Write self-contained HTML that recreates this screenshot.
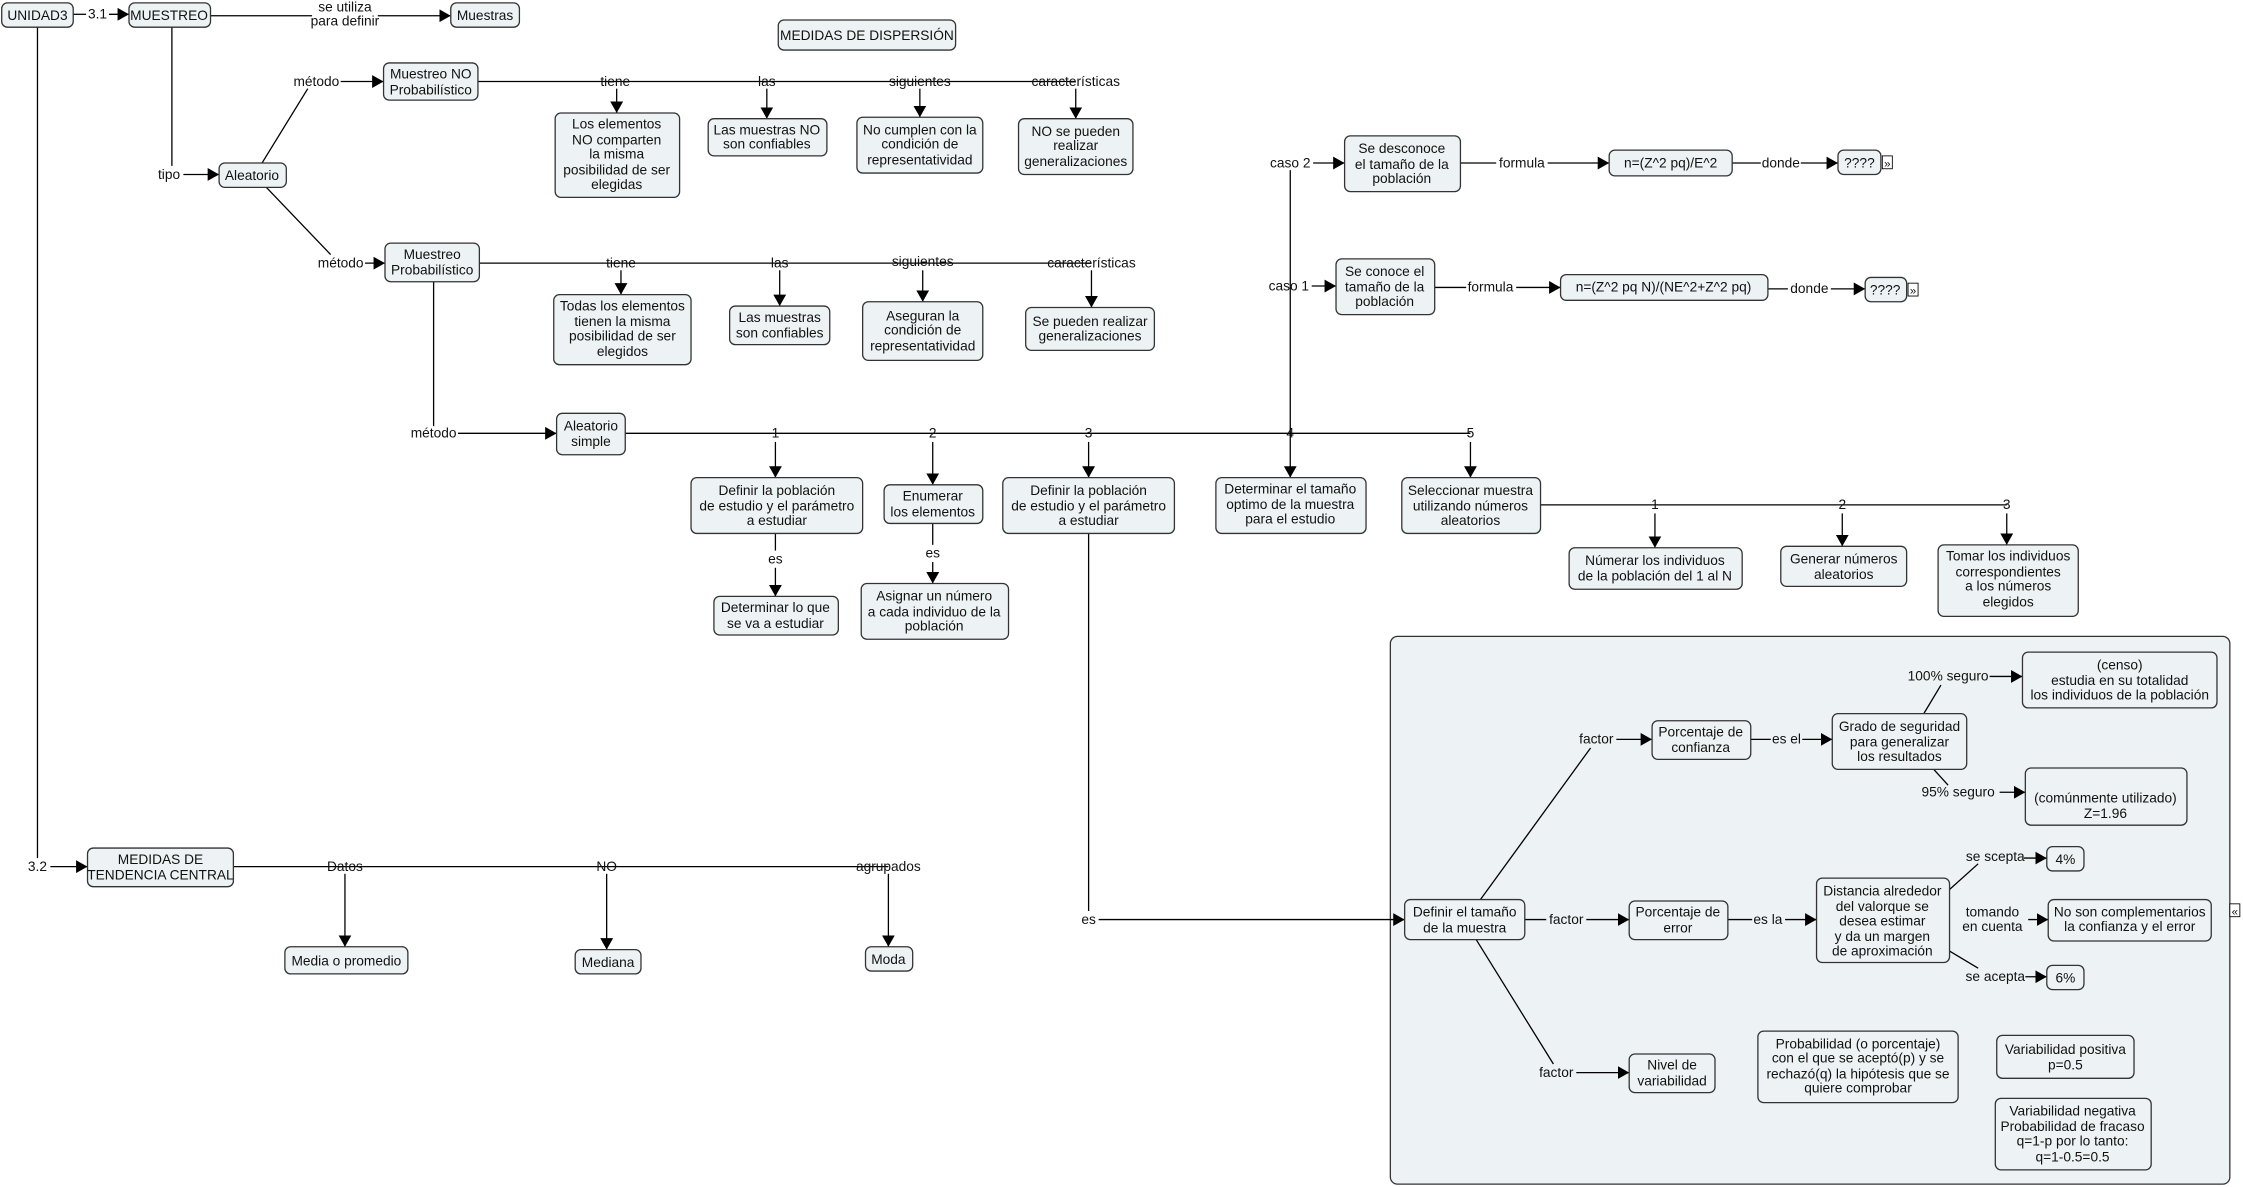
<!DOCTYPE html>
<html><head><meta charset="utf-8"><style>
html,body{margin:0;padding:0;background:#fff}
svg{display:block}
text{font-family:"Liberation Sans",sans-serif;font-size:9.6px;fill:#111;text-anchor:middle}
.n{fill:#edf3f5;stroke:#333;stroke-width:0.9}
.l{stroke:#000;stroke-width:0.9;fill:none}
.a{stroke:#000;stroke-width:0.9;fill:none;marker-end:url(#ar)}
</style></head><body>
<svg width="2243" height="1187" viewBox="0 0 1568 830" xmlns="http://www.w3.org/2000/svg">
<defs><marker id="ar" markerUnits="userSpaceOnUse" markerWidth="9" markerHeight="9" refX="8" refY="4.5" orient="auto"><path d="M0,0 L8,4.5 L0,9 z" fill="#000"/></marker></defs>

<!-- panel -->
<rect x="972" y="445" width="587" height="383" rx="5" fill="#edf3f5" stroke="#333" stroke-width="0.9"/>

<!-- connectors -->
<line class="l" x1="51" y1="10" x2="60" y2="10"/><text x="68" y="13">3.1</text><line class="a" x1="76" y1="10" x2="90" y2="10"/>
<line class="l" x1="147" y1="11" x2="218" y2="11"/><text x="241" y="8">se utiliza</text><text x="241" y="18">para definir</text><line class="a" x1="264" y1="11" x2="315" y2="11"/>
<line class="l" x1="120" y1="19" x2="120" y2="116"/><text x="118" y="125">tipo</text><line class="a" x1="128" y1="122" x2="153" y2="122"/>
<line class="l" x1="183" y1="114" x2="215" y2="62"/><text x="221" y="60">método</text><line class="a" x1="238" y1="57" x2="268" y2="57"/>
<line class="l" x1="186" y1="131" x2="231" y2="178"/><text x="238" y="187">método</text><line class="a" x1="255" y1="184" x2="269" y2="184"/>
<line class="l" x1="334" y1="57" x2="752" y2="57"/>
<text x="430" y="60">tiene</text><text x="536" y="60">las</text><text x="643" y="60">siguientes</text><text x="752" y="60">características</text>
<line class="a" x1="431" y1="62" x2="431" y2="79"/><line class="a" x1="536" y1="62" x2="536" y2="83"/><line class="a" x1="643" y1="62" x2="643" y2="82"/><line class="a" x1="752" y1="62" x2="752" y2="83"/>
<line class="l" x1="335" y1="184" x2="763" y2="184"/>
<text x="434" y="187">tiene</text><text x="545" y="187">las</text><text x="645" y="186">siguientes</text><text x="763" y="187">características</text>
<line class="a" x1="434" y1="189" x2="434" y2="206"/><line class="a" x1="545" y1="189" x2="545" y2="214"/><line class="a" x1="645" y1="189" x2="645" y2="211"/><line class="a" x1="763" y1="189" x2="763" y2="215"/>
<line class="l" x1="303" y1="197" x2="303" y2="298"/><text x="303" y="306">método</text><line class="a" x1="320" y1="303" x2="389" y2="303"/>
<line class="l" x1="437" y1="303" x2="1028" y2="303"/>
<text x="542" y="306">1</text><text x="652" y="306">2</text><text x="761" y="306">3</text><text x="902" y="306">4</text><text x="1028" y="306">5</text>
<line class="a" x1="542" y1="309" x2="542" y2="334"/><line class="a" x1="652" y1="309" x2="652" y2="339"/><line class="a" x1="761" y1="309" x2="761" y2="334"/><line class="a" x1="1028" y1="309" x2="1028" y2="334"/>
<line class="l" x1="542" y1="373" x2="542" y2="385"/><text x="542" y="394">es</text><line class="a" x1="542" y1="397" x2="542" y2="417"/>
<line class="l" x1="652" y1="366" x2="652" y2="381"/><text x="652" y="390">es</text><line class="a" x1="652" y1="393" x2="652" y2="408"/>
<line class="l" x1="761" y1="373" x2="761" y2="637"/><text x="761" y="646">es</text><line class="a" x1="768" y1="643" x2="982" y2="643"/>
<line class="a" x1="902" y1="119" x2="902" y2="334"/>
<text x="902" y="117">caso 2</text><line class="a" x1="918" y1="114" x2="940" y2="114"/>
<text x="901" y="203">caso 1</text><line class="a" x1="917" y1="200" x2="934" y2="200"/>
<line class="l" x1="1021" y1="114" x2="1046" y2="114"/><text x="1064" y="117">formula</text><line class="a" x1="1082" y1="114" x2="1125" y2="114"/>
<line class="l" x1="1211" y1="114" x2="1231" y2="114"/><text x="1245" y="117">donde</text><line class="a" x1="1259" y1="114" x2="1285" y2="114"/>
<line class="l" x1="1003" y1="201" x2="1025" y2="201"/><text x="1042" y="204">formula</text><line class="a" x1="1060" y1="201" x2="1091" y2="201"/>
<line class="l" x1="1236" y1="202" x2="1250" y2="202"/><text x="1265" y="205">donde</text><line class="a" x1="1280" y1="202" x2="1304" y2="202"/>
<line class="l" x1="1077" y1="353" x2="1403" y2="353"/>
<text x="1157" y="356">1</text><text x="1288" y="356">2</text><text x="1403" y="356">3</text>
<line class="a" x1="1157" y1="359" x2="1157" y2="383"/><line class="a" x1="1288" y1="359" x2="1288" y2="382"/><line class="a" x1="1403" y1="359" x2="1403" y2="381"/>
<line class="l" x1="26" y1="19" x2="26" y2="600"/><text x="26" y="609">3.2</text><line class="a" x1="35" y1="606" x2="61" y2="606"/>
<line class="l" x1="163" y1="606" x2="621" y2="606"/>
<text x="241" y="609">Datos</text><text x="424" y="609">NO</text><text x="621" y="609">agrupados</text>
<line class="a" x1="241" y1="611" x2="241" y2="662"/><line class="a" x1="424" y1="611" x2="424" y2="664"/><line class="a" x1="621" y1="611" x2="621" y2="662"/>
<!-- panel connectors -->
<line class="l" x1="1035" y1="629" x2="1112" y2="523"/><text x="1116" y="520">factor</text><line class="a" x1="1130" y1="517" x2="1155" y2="517"/>
<line class="l" x1="1066" y1="643" x2="1081" y2="643"/><text x="1095" y="646">factor</text><line class="a" x1="1109" y1="643" x2="1139" y2="643"/>
<line class="l" x1="1032" y1="657" x2="1086" y2="744"/><text x="1088" y="753">factor</text><line class="a" x1="1102" y1="750" x2="1139" y2="750"/>
<line class="l" x1="1224" y1="517" x2="1238" y2="517"/><text x="1249" y="520">es el</text><line class="a" x1="1260" y1="517" x2="1281" y2="517"/>
<line class="l" x1="1345" y1="499" x2="1357" y2="479"/><text x="1362" y="476">100% seguro</text><line class="a" x1="1391" y1="473" x2="1414" y2="473"/>
<line class="l" x1="1352" y1="538" x2="1362" y2="549"/><text x="1369" y="557">95% seguro</text><line class="a" x1="1398" y1="554" x2="1416" y2="554"/>
<line class="l" x1="1208" y1="643" x2="1225" y2="643"/><text x="1236" y="646">es la</text><line class="a" x1="1248" y1="643" x2="1270" y2="643"/>
<line class="l" x1="1363" y1="622" x2="1383" y2="604"/><text x="1395" y="602">se scepta</text><line class="a" x1="1415" y1="600" x2="1431" y2="600"/>
<text x="1393" y="641">tomando</text><text x="1393" y="651">en cuenta</text><line class="a" x1="1418" y1="643" x2="1432" y2="643"/>
<line class="l" x1="1363" y1="665" x2="1383" y2="677"/><text x="1395" y="686">se acepta</text><line class="a" x1="1416" y1="683" x2="1431" y2="683"/>

<!-- nodes -->
<rect class="n" x="1" y="2" width="50" height="17" rx="4"/><text x="26" y="14">UNIDAD3</text>
<rect class="n" x="90" y="2" width="57" height="17" rx="4"/><text x="118" y="14">MUESTREO</text>
<rect class="n" x="315" y="2" width="48" height="17" rx="4"/><text x="339" y="14">Muestras</text>
<rect class="n" x="544" y="14" width="124" height="21" rx="4"/><text x="606" y="28">MEDIDAS DE DISPERSIÓN</text>
<rect class="n" x="268" y="44" width="66" height="26" rx="4"/><text x="301" y="55">Muestreo NO</text><text x="301" y="66">Probabilístico</text>
<rect class="n" x="388" y="79" width="87" height="59" rx="4"/><text x="431" y="90">Los elementos</text><text x="431" y="101">NO comparten</text><text x="431" y="111">la misma</text><text x="431" y="122">posibilidad de ser</text><text x="431" y="132">elegidas</text>
<rect class="n" x="495" y="83" width="83" height="26" rx="4"/><text x="536" y="94">Las muestras NO</text><text x="536" y="104">son confiables</text>
<rect class="n" x="599" y="82" width="88" height="39" rx="4"/><text x="643" y="94">No cumplen con la</text><text x="643" y="104">condición de</text><text x="643" y="115">representatividad</text>
<rect class="n" x="712" y="83" width="80" height="39" rx="4"/><text x="752" y="95">NO se pueden</text><text x="752" y="105">realizar</text><text x="752" y="116">generalizaciones</text>
<rect class="n" x="153" y="114" width="47" height="17" rx="4"/><text x="176" y="126">Aleatorio</text>
<rect class="n" x="269" y="170" width="66" height="27" rx="4"/><text x="302" y="181">Muestreo</text><text x="302" y="192">Probabilístico</text>
<rect class="n" x="387" y="206" width="96" height="49" rx="4"/><text x="435" y="217">Todas los elementos</text><text x="435" y="228">tienen la misma</text><text x="435" y="238">posibilidad de ser</text><text x="435" y="249">elegidos</text>
<rect class="n" x="510" y="214" width="70" height="27" rx="4"/><text x="545" y="225">Las muestras</text><text x="545" y="236">son confiables</text>
<rect class="n" x="603" y="211" width="84" height="41" rx="4"/><text x="645" y="224">Aseguran la</text><text x="645" y="234">condición de</text><text x="645" y="245">representatividad</text>
<rect class="n" x="717" y="215" width="90" height="30" rx="4"/><text x="762" y="228">Se pueden realizar</text><text x="762" y="238">generalizaciones</text>
<rect class="n" x="389" y="289" width="48" height="29" rx="4"/><text x="413" y="301">Aleatorio</text><text x="413" y="312">simple</text>
<rect class="n" x="483" y="334" width="120" height="39" rx="4"/><text x="543" y="346">Definir la población</text><text x="543" y="357">de estudio y el parámetro</text><text x="543" y="367">a estudiar</text>
<rect class="n" x="618" y="339" width="69" height="27" rx="4"/><text x="652" y="350">Enumerar</text><text x="652" y="361">los elementos</text>
<rect class="n" x="701" y="334" width="120" height="39" rx="4"/><text x="761" y="346">Definir la población</text><text x="761" y="357">de estudio y el parámetro</text><text x="761" y="367">a estudiar</text>
<rect class="n" x="850" y="334" width="105" height="39" rx="4"/><text x="902" y="345">Determinar el tamaño</text><text x="902" y="356">optimo de la muestra</text><text x="902" y="366">para el estudio</text>
<rect class="n" x="980" y="334" width="97" height="39" rx="4"/><text x="1028" y="346">Seleccionar muestra</text><text x="1028" y="357">utilizando números</text><text x="1028" y="367">aleatorios</text>
<rect class="n" x="499" y="417" width="87" height="27" rx="4"/><text x="542" y="428">Determinar lo que</text><text x="542" y="439">se va a estudiar</text>
<rect class="n" x="602" y="408" width="103" height="39" rx="4"/><text x="653" y="420">Asignar un número</text><text x="653" y="431">a cada individuo de la</text><text x="653" y="441">población</text>
<rect class="n" x="1097" y="383" width="121" height="29" rx="4"/><text x="1157" y="395">Númerar los individuos</text><text x="1157" y="406">de la población del 1 al N</text>
<rect class="n" x="1245" y="382" width="88" height="28" rx="4"/><text x="1289" y="394">Generar números</text><text x="1289" y="405">aleatorios</text>
<rect class="n" x="1355" y="381" width="98" height="50" rx="4"/><text x="1404" y="392">Tomar los individuos</text><text x="1404" y="403">correspondientes</text><text x="1404" y="413">a los números</text><text x="1404" y="424">elegidos</text>
<rect class="n" x="940" y="95" width="81" height="39" rx="4"/><text x="980" y="107">Se desconoce</text><text x="980" y="118">el tamaño de la</text><text x="980" y="128">población</text>
<rect class="n" x="934" y="181" width="69" height="39" rx="4"/><text x="968" y="193">Se conoce el</text><text x="968" y="204">tamaño de la</text><text x="968" y="214">población</text>
<rect class="n" x="1125" y="105" width="86" height="18" rx="4"/><text x="1168" y="117">n=(Z^2 pq)/E^2</text>
<rect class="n" x="1091" y="192" width="145" height="18" rx="4"/><text x="1163" y="204">n=(Z^2 pq N)/(NE^2+Z^2 pq)</text>
<rect class="n" x="1285" y="105" width="30" height="17" rx="4"/><text x="1300" y="117">????</text>
<rect x="1316" y="109" width="7" height="9" fill="#fff" stroke="#000" stroke-width="0.6"/><text x="1319.5" y="117" style="font-size:8px">»</text>
<rect class="n" x="1304" y="194" width="29" height="17" rx="4"/><text x="1318" y="206">????</text>
<rect x="1334" y="198" width="7" height="9" fill="#fff" stroke="#000" stroke-width="0.6"/><text x="1337.5" y="206" style="font-size:8px">»</text>
<rect class="n" x="61" y="593" width="102" height="27" rx="4"/><text x="112" y="604">MEDIDAS DE</text><text x="112" y="615">TENDENCIA CENTRAL</text>
<rect class="n" x="199" y="662" width="86" height="19" rx="4"/><text x="242" y="675">Media o promedio</text>
<rect class="n" x="402" y="664" width="46" height="17" rx="4"/><text x="425" y="676">Mediana</text>
<rect class="n" x="605" y="662" width="33" height="17" rx="4"/><text x="621" y="674">Moda</text>
<!-- panel nodes -->
<rect class="n" x="982" y="629" width="84" height="28" rx="4"/><text x="1024" y="641">Definir el tamaño</text><text x="1024" y="652">de la muestra</text>
<rect class="n" x="1155" y="504" width="69" height="27" rx="4"/><text x="1189" y="515">Porcentaje de</text><text x="1189" y="526">confianza</text>
<rect class="n" x="1281" y="499" width="94" height="39" rx="4"/><text x="1328" y="511">Grado de seguridad</text><text x="1328" y="522">para generalizar</text><text x="1328" y="532">los resultados</text>
<rect class="n" x="1414" y="456" width="136" height="39" rx="4"/><text x="1482" y="468">(censo)</text><text x="1482" y="479">estudia en su totalidad</text><text x="1482" y="489">los individuos de la población</text>
<rect class="n" x="1416" y="537" width="113" height="40" rx="4"/><text x="1472" y="561">(comúnmente utilizado)</text><text x="1472" y="572">Z=1.96</text>
<rect class="n" x="1139" y="630" width="69" height="27" rx="4"/><text x="1173" y="641">Porcentaje de</text><text x="1173" y="652">error</text>
<rect class="n" x="1270" y="614" width="93" height="59" rx="4"/><text x="1316" y="626">Distancia alrededor</text><text x="1316" y="637">del valorque se</text><text x="1316" y="647">desea estimar</text><text x="1316" y="658">y da un margen</text><text x="1316" y="668">de aproximación</text>
<rect class="n" x="1431" y="592" width="26" height="17" rx="4"/><text x="1444" y="604">4%</text>
<rect class="n" x="1432" y="629" width="114" height="29" rx="4"/><text x="1489" y="641">No son complementarios</text><text x="1489" y="651">la confianza y el error</text>
<rect class="n" x="1431" y="675" width="26" height="17" rx="4"/><text x="1444" y="687">6%</text>
<rect class="n" x="1139" y="737" width="60" height="27" rx="4"/><text x="1169" y="748">Nivel de</text><text x="1169" y="759">variabilidad</text>
<rect class="n" x="1229" y="721" width="140" height="50" rx="4"/><text x="1299" y="733">Probabilidad (o porcentaje)</text><text x="1299" y="743">con el que se aceptó(p) y se</text><text x="1299" y="754">rechazó(q) la hipótesis que se</text><text x="1299" y="764">quiere comprobar</text>
<rect class="n" x="1396" y="724" width="96" height="30" rx="4"/><text x="1444" y="737">Variabilidad positiva</text><text x="1444" y="748">p=0.5</text>
<rect class="n" x="1395" y="768" width="109" height="50" rx="4"/><text x="1449" y="780">Variabilidad negativa</text><text x="1449" y="791">Probabilidad de fracaso</text><text x="1449" y="801">q=1-p por lo tanto:</text><text x="1449" y="812">q=1-0.5=0.5</text>
<rect x="1559" y="632" width="7" height="9" fill="#fff" stroke="#000" stroke-width="0.6"/><text x="1562.5" y="640" style="font-size:8px">«</text>
</svg>
</body></html>
